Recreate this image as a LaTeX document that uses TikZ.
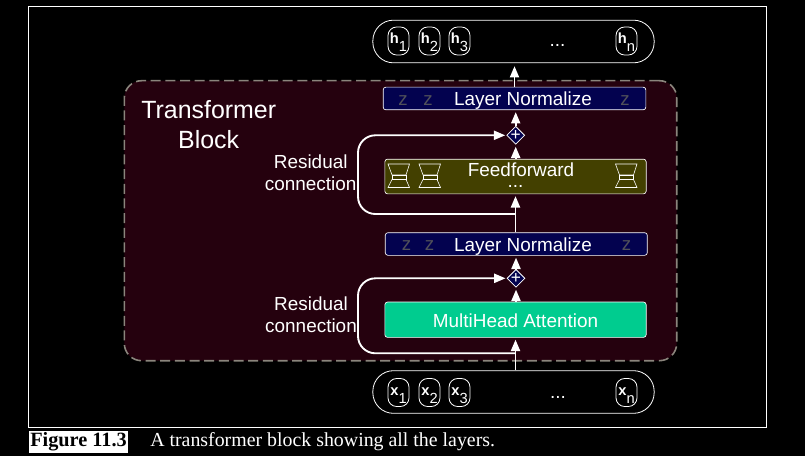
\documentclass[tikz,border=0pt]{standalone}
\usepackage{fontspec}
\setmainfont{Liberation Serif}
\setsansfont{Liberation Sans}
\usepackage{tikz}
\usetikzlibrary{shapes.geometric,arrows.meta}
\definecolor{blockfill}{HTML}{25010E}
\definecolor{blockdash}{HTML}{8A857C}
\definecolor{normfill}{HTML}{03024F}
\definecolor{feedfill}{HTML}{434000}
\definecolor{attnfill}{HTML}{00CC8F}
\definecolor{zgray}{HTML}{50505A}
\tikzset{
    tok/.style={draw=white, rounded corners=6.5pt, line width=0.6pt, minimum width=15.75pt, minimum height=21pt, inner sep=0pt, text=white, text height=9.2pt, text depth=5pt, font=\sffamily\fontsize{11}{11}\selectfont},
    seqbox/.style={draw=white, rounded corners=15.5pt, line width=0.6pt, minimum width=211pt, minimum height=32pt, inner sep=0pt},
    layer/.style={draw=white, rounded corners=2pt, line width=0.5pt, inner sep=0pt},
    plain/.style={text=white, font=\sffamily\fontsize{14.2}{16.5}\selectfont, align=center, inner sep=0pt},
    zlabel/.style={text=zgray, font=\sffamily\fontsize{14}{14}\selectfont, inner sep=0pt},
    addbox/.style={diamond, draw=white, fill=normfill, line width=0.6pt, minimum width=13.5pt, minimum height=13.5pt, inner sep=0pt},
    addsign/.style={text=white, font=\sffamily\fontsize{13}{13}\selectfont, inner sep=0pt},
    flow/.style={draw=white, line width=1.4pt, shorten >=1.5pt, -{Triangle[length=8.5pt,width=6.8pt]}},
    funnel/.style={draw=white, line width=0.45pt}
}
% one hourglass of the feedforward layer
\newcommand{\ffglyph}[1]{
    \draw[funnel] (#1,-164) -- (#1+21.5,-164) -- (#1+18,-175) -- (#1+4,-175) --cycle;
    \draw[funnel] (#1+4,-175) rectangle (#1+18,-179.5);
    \draw[funnel] (#1+4,-179.5) -- (#1+18,-179.5) -- (#1+21.5,-187.5) -- (#1,-187.5) --cycle;
}
\newcommand{\toklabel}[2]{\textbf{#1}\raisebox{-6pt}{#2}}
\begin{document}
\begin{tikzpicture}[x=0.75pt, y=0.75pt]
    \useasboundingbox (0,-456) rectangle (805,0);
    \fill[black] (0,-456) rectangle (805,0);
    \draw[white, line width=0.9pt] (28.5,-427.5) rectangle (766.5,-6.5);

    % transformer block
    \node[draw=blockdash, fill=blockfill, dashed, dash pattern=on 7.5pt off 3.5pt, rounded corners=13pt, line width=1.2pt, minimum width=414.3pt, minimum height=210pt, inner sep=0pt] (block) at (400.5,-220.7) {};
    \node[text=white, font=\sffamily\fontsize{18.7}{22}\selectfont, align=center, inner sep=0pt] (blocklabel) at (208.7,-124.5) {Transformer\\Block};

    % output sequence
    \node[seqbox] (outseq) at (513.5,-41.5) {};
    \node[tok] (h1) at (398.5,-41) {\toklabel{h}{1}};
    \node[tok] (h2) at (429.5,-41) {\toklabel{h}{2}};
    \node[tok] (h3) at (459.5,-41) {\toklabel{h}{3}};
    \node[plain, anchor=base] (hdots) at (557.5,-47) {...};
    \node[tok] (hn) at (626.5,-41) {\toklabel{h}{n}};

    % upper sublayers
    \node[layer, fill=normfill, minimum width=197pt, minimum height=17pt] (norm2) at (514.5,-98.5) {};
    \node[plain, anchor=base] (norm2label) at (523,-106) {Layer Normalize};
    \node[zlabel] (z21) at (403,-101) {z};
    \node[zlabel] (z22) at (428,-101) {z};
    \node[zlabel] (z2n) at (625,-101) {z};
    \node[addbox] (add2) at (515.7,-135.3) {};
    \node[addsign] (add2sign) at (515.7,-135.3) {+};
    \node[layer, fill=feedfill, minimum width=196pt, minimum height=26pt] (ff) at (515.5,-176.5) {};
    \node[plain, anchor=base] (fflabel) at (521,-176.5) {Feedforward};
    \node[plain, anchor=base] (ffdots) at (515.5,-187.5) {...};
    \ffglyph{388}
    \ffglyph{419}
    \ffglyph{615.5}

    % lower sublayers
    \node[layer, fill=normfill, minimum width=196.5pt, minimum height=17pt] (norm1) at (516.3,-244) {};
    \node[plain, anchor=base] (norm1label) at (523,-251.5) {Layer Normalize};
    \node[zlabel] (z11) at (406.5,-246) {z};
    \node[zlabel] (z12) at (429.5,-246) {z};
    \node[zlabel] (z1n) at (626.5,-246) {z};
    \node[addbox] (add1) at (516,-278.3) {};
    \node[addsign] (add1sign) at (516,-278.3) {+};
    \node[layer, fill=attnfill, minimum width=196pt, minimum height=26.5pt] (attn) at (515.5,-319.7) {};
    \node[plain, anchor=base] (attnlabel) at (515.5,-327) {MultiHead Attention};

    % input sequence
    \node[seqbox] (inseq) at (513.5,-392) {};
    \node[tok] (x1) at (398.5,-392.5) {\toklabel{x}{1}};
    \node[tok] (x2) at (429.5,-392.5) {\toklabel{x}{2}};
    \node[tok] (x3) at (459.5,-392.5) {\toklabel{x}{3}};
    \node[plain, anchor=base] (xdots) at (558,-398) {...};
    \node[tok] (xn) at (626.5,-392.5) {\toklabel{x}{n}};

    % residual labels
    \node[plain] (res2) at (310.7,-172.5) {Residual\\connection};
    \node[plain] (res1) at (311,-314.5) {Residual\\connection};

    % upward flow
    \draw[flow] (attn.south |- inseq.north) -- (attn.south);
    \draw[flow] (add1.north |- attn.north) -- (add1.south);
    \draw[flow] (add1.north) -- (add1.north |- norm1.south);
    \draw[flow] (ff.south |- norm1.north) -- (ff.south);
    \draw[flow] (add2.south |- ff.north) -- (add2.south);
    \draw[flow] (add2.north) -- (add2.north |- norm2.south);
    \draw[flow, shorten >=2.2pt] (norm2.north) -- (norm2.north |- outseq.south);

    % residual connections
    \coordinate (tap1) at (515.5,-353.3);
    \coordinate (tap2) at (515.5,-214);
    \draw[flow, rounded corners=13pt, shorten >=0.8pt] (tap1) -- (358,-353.3) -- (358,-278.3) -- (add1.west);
    \draw[flow, rounded corners=13pt, shorten >=0.8pt] (tap2) -- (358,-214) -- (358,-135.3) -- (add2.west);

    % caption
    \node[fill=white, text=black, font=\bfseries\fontsize{15.2}{15.2}\selectfont, minimum width=74.3pt, text height=12pt, text depth=4.5pt, inner sep=0pt, anchor=base] (figlabel) at (78.5,-446.7) {Figure 11.3};
    \node[text=white, anchor=base west, font=\fontsize{14.9}{14.9}\selectfont, inner sep=0pt] (figcaption) at (150,-446.7) {A transformer block showing all the layers.};
\end{tikzpicture}
\end{document}
